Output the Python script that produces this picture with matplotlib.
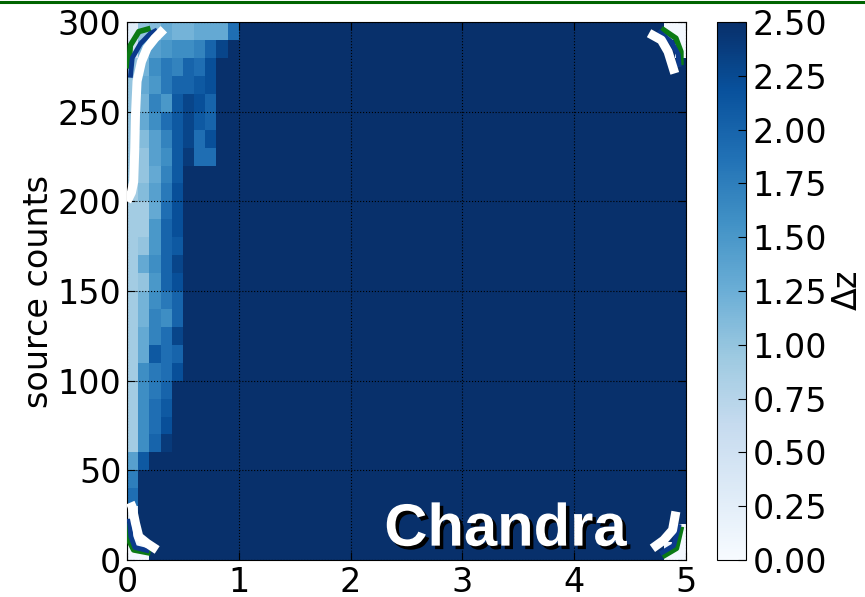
import numpy as np
import matplotlib
matplotlib.use("Agg")
import matplotlib.pyplot as plt
import matplotlib.patheffects as pe
from matplotlib.lines import Line2D

# ---- data -----------------------------------------------------------------
x_edges = np.linspace(0.0, 5.0, 51)        # 0.1 wide bins
count_edges = np.linspace(0.0, 300.0, 31)  # 10-count bins

dz_saturated = 2.5

# Delta z for the first ten x bins (0 - 1), rows from 0 counts upward
dz_left = [
    [0.05, 0.05, 2.5, 2.5, 2.5, 2.5, 2.5, 2.5, 2.5, 2.5],
    [0.05, 2.5, 2.5, 2.5, 2.5, 2.5, 2.5, 2.5, 2.5, 2.5],
    [0.30, 2.5, 2.5, 2.5, 2.5, 2.5, 2.5, 2.5, 2.5, 2.5],
    [1.90, 2.5, 2.5, 2.5, 2.5, 2.5, 2.5, 2.5, 2.5, 2.5],
    [1.75, 2.5, 2.5, 2.5, 2.5, 2.5, 2.5, 2.5, 2.5, 2.5],
    [1.40, 2.10, 2.5, 2.5, 2.5, 2.5, 2.5, 2.5, 2.5, 2.5],
    [0.90, 1.60, 2.00, 2.40, 2.5, 2.5, 2.5, 2.5, 2.5, 2.5],
    [0.90, 1.60, 1.90, 2.20, 2.5, 2.5, 2.5, 2.5, 2.5, 2.5],
    [0.90, 1.60, 1.90, 2.10, 2.5, 2.5, 2.5, 2.5, 2.5, 2.5],
    [0.90, 1.60, 1.80, 2.00, 2.5, 2.5, 2.5, 2.5, 2.5, 2.5],
    [0.90, 1.60, 1.80, 1.90, 2.20, 2.5, 2.5, 2.5, 2.5, 2.5],
    [0.90, 1.30, 2.10, 1.90, 2.00, 2.5, 2.5, 2.5, 2.5, 2.5],
    [0.90, 1.30, 1.70, 1.90, 2.30, 2.5, 2.5, 2.5, 2.5, 2.5],
    [0.90, 1.20, 1.70, 1.60, 2.00, 2.5, 2.5, 2.5, 2.5, 2.5],
    [0.90, 1.20, 1.60, 1.80, 2.00, 2.5, 2.5, 2.5, 2.5, 2.5],
    [0.90, 1.00, 1.50, 2.00, 2.20, 2.5, 2.5, 2.5, 2.5, 2.5],
    [0.90, 1.30, 1.60, 2.00, 2.30, 2.5, 2.5, 2.5, 2.5, 2.5],
    [0.90, 1.00, 1.50, 2.00, 2.10, 2.5, 2.5, 2.5, 2.5, 2.5],
    [0.90, 0.90, 1.50, 2.00, 2.20, 2.5, 2.5, 2.5, 2.5, 2.5],
    [0.90, 0.90, 1.30, 1.90, 2.20, 2.5, 2.5, 2.5, 2.5, 2.5],
    [0.90, 1.10, 1.40, 1.80, 2.20, 2.5, 2.5, 2.5, 2.5, 2.5],
    [1.00, 1.00, 1.30, 1.70, 2.10, 2.5, 2.5, 2.5, 2.5, 2.5],
    [1.00, 1.00, 1.40, 1.60, 2.10, 2.40, 1.90, 1.90, 2.5, 2.5],
    [1.00, 1.10, 1.40, 1.70, 2.10, 2.30, 1.90, 2.20, 2.5, 2.5],
    [1.00, 1.30, 1.60, 1.90, 2.10, 2.30, 2.10, 2.00, 2.5, 2.5],
    [1.00, 1.20, 1.70, 1.50, 2.10, 2.30, 2.20, 2.00, 2.5, 2.5],
    [1.00, 1.30, 1.50, 1.80, 2.00, 2.00, 2.10, 2.20, 2.5, 2.5],
    [1.00, 1.20, 1.60, 1.80, 1.70, 2.00, 1.90, 2.20, 2.5, 2.5],
    [0.50, 1.20, 1.40, 1.50, 1.60, 1.60, 1.70, 2.00, 2.30, 2.5],
    [0.30, 1.00, 1.10, 1.30, 1.20, 1.20, 1.30, 1.30, 1.30, 1.90],
]

# low-Delta-z cells in the right-hand corners: (row, col, value)
dz_right_corners = [
    (0, 48, 0.05), (0, 49, 0.05), (1, 49, 0.05),
    (29, 48, 0.05), (29, 49, 0.05), (28, 49, 0.05),
]

# contour fragments at the four corners (x, counts)
contour_white = [
    ([0.00, 0.04, 0.06, 0.07, 0.076, 0.09, 0.13, 0.18, 0.25, 0.33],
     [200, 205, 211, 230, 248, 267, 278, 285.5, 291, 296]),
    ([0.03, 0.046, 0.076, 0.106, 0.18, 0.27],
     [32, 29.7, 20.5, 13, 9.3, 5.6]),
    ([4.67, 4.78, 4.84, 4.90],
     [293.8, 290, 283.5, 271.4]),
    ([4.91, 4.88, 4.80, 4.70],
     [27, 16.7, 11, 6.5]),
]
contour_navy = [
    ([0.03, 0.047, 0.12, 0.21, 0.27], [269, 280, 287.9, 293.7, 295.6]),
    ([0.02, 0.035, 0.07, 0.20], [23, 13, 7, 5]),
    ([4.75, 4.87, 4.93, 4.94], [295, 289, 282, 275]),
    ([4.94, 4.89, 4.77], [20, 8, 3.5]),
]
contour_green = [
    ([0.016, 0.03, 0.106, 0.21], [274, 287, 294.7, 296.5]),
    ([0.005, 0.016, 0.06, 0.21], [20.5, 11, 5.6, 3.8]),
    ([4.78, 4.91, 4.955, 4.955], [296.5, 291, 283.5, 276]),
    ([4.96, 4.915, 4.79], [18.6, 6.5, 1.9]),
]

cbar_ticks = [0.0, 0.25, 0.5, 0.75, 1.0, 1.25, 1.5, 1.75, 2.0, 2.25, 2.5]
x_ticks = [0, 1, 2, 3, 4, 5]
y_ticks = [0, 50, 100, 150, 200, 250, 300]

# ---- grid assembly --------------------------------------------------------
dz = np.full((len(count_edges) - 1, len(x_edges) - 1), dz_saturated)
dz[:, :10] = np.array(dz_left)
for r, c, v in dz_right_corners:
    dz[r, c] = v

# ---- figure ---------------------------------------------------------------
plt.rcParams["font.family"] = ["DejaVu Sans"]
fs = 24
fig = plt.figure(figsize=(8.65, 5.97), dpi=100)
ax = fig.add_axes([0.1468, 0.062, 0.6462, 0.901])
cax = fig.add_axes([0.829, 0.062, 0.033, 0.901])

mesh = ax.pcolormesh(x_edges, count_edges, dz, cmap="Blues",
                     vmin=0.0, vmax=2.5, shading="flat")

for xs, ys in contour_green:
    ax.plot(xs, ys, color="#0a7a14", lw=4.0, solid_capstyle="butt", zorder=3)
for xs, ys in contour_navy:
    ax.plot(xs, ys, color="#0b3a8c", lw=3.5, solid_capstyle="butt", zorder=4)
for xs, ys in contour_white:
    ax.plot(xs, ys, color="white", lw=6.5, solid_capstyle="butt", zorder=5)

ax.set_xlim(0, 5)
ax.set_ylim(0, 300)
ax.set_xticks(x_ticks)
ax.set_yticks(y_ticks)
ax.grid(True, color="black", linestyle=":", linewidth=0.8)
ax.tick_params(direction="in", top=True, right=True, labelsize=fs,
               length=6, pad=4)
ax.set_ylabel("source counts", fontsize=fs, labelpad=2)

ax.text(4.47, 8, "Chandra", fontsize=43, fontweight="bold",
        family="Liberation Sans", color="white", ha="right", va="baseline",
        zorder=6,
        path_effects=[pe.SimplePatchShadow(offset=(2.5, -2.5),
                                           shadow_rgbFace="black", alpha=1.0),
                      pe.Normal()])

cb = fig.colorbar(mesh, cax=cax, ticks=cbar_ticks, format="%.2f")
cb.ax.tick_params(direction="in", labelsize=fs, length=6, pad=5)
cb.set_label(r"$\Delta$z", fontsize=fs, labelpad=3)

fig.add_artist(Line2D([0, 1], [0.996, 0.996], transform=fig.transFigure,
                      color="#006400", lw=2.2))

fig.savefig("out.png", dpi=100)
